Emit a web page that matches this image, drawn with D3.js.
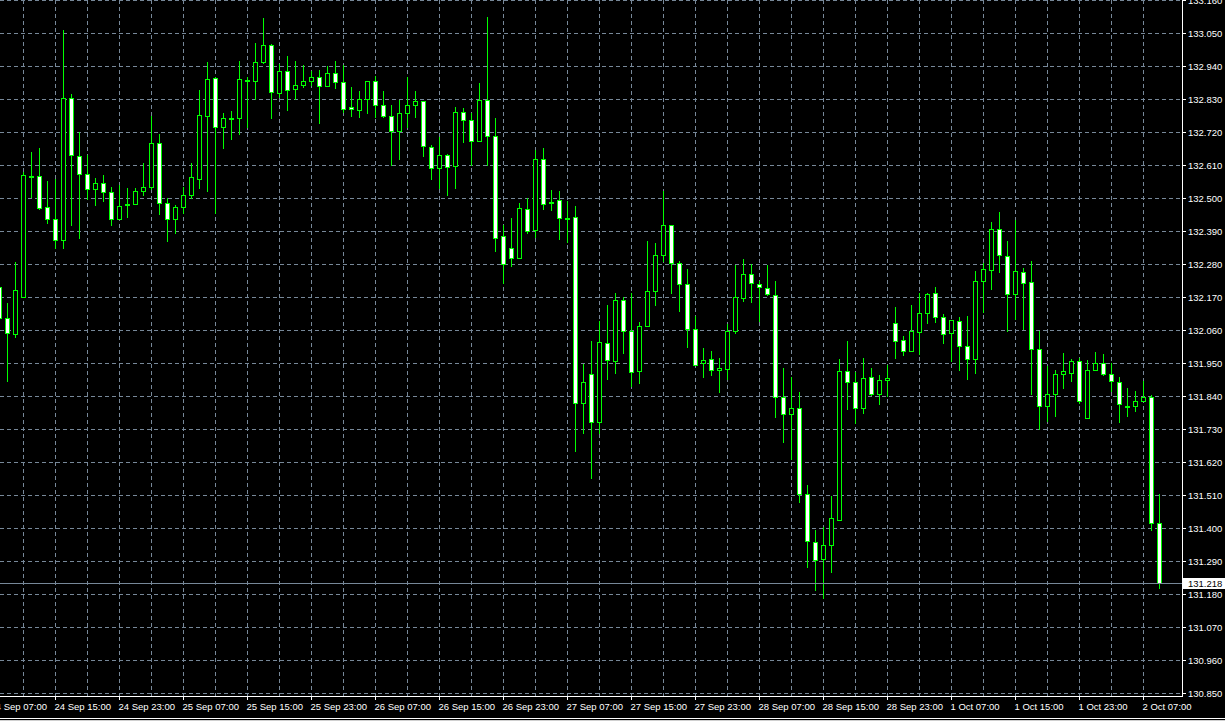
<!DOCTYPE html>
<html>
<head>
<meta charset="utf-8">
<script src="https://cdn.jsdelivr.net/npm/d3@7/dist/d3.min.js"></script>
<style>
  html, body { margin: 0; padding: 0; background: #000; overflow: hidden; }
  svg { display: block; }
  text { font-family: "Liberation Sans", Arial, sans-serif; font-size: 9.5px; }
</style>
</head>
<body>
<svg id="chart" width="1225" height="721"></svg>
<script>
// USDJPY-style H1 candles, 24 Sep 08:00 .. 2 Oct 09:00
const open = [132.202,132.099,132.046,132.169,132.574,132.572,132.469,132.429,132.359,132.832,
 132.639,132.579,132.531,132.549,132.519,132.429,132.479,132.479,132.522,132.536,
 132.682,132.482,132.431,132.469,132.509,132.564,132.774,132.899,132.736,132.766,
 132.766,132.894,132.889,132.952,133.009,132.849,132.922,132.862,132.876,132.889,
 132.902,132.872,132.916,132.886,132.802,132.792,132.829,132.889,132.809,132.772,
 132.722,132.782,132.809,132.822,132.669,132.599,132.642,132.606,132.786,132.759,
 132.689,132.826,132.706,132.372,132.332,132.299,132.462,132.392,132.629,132.488,
 132.492,132.434,132.436,131.816,131.912,131.752,132.016,131.956,132.159,132.056,
 131.922,132.072,132.189,132.309,132.409,132.282,132.212,132.062,131.949,131.962,
 131.926,131.929,132.056,132.166,132.246,132.212,132.199,132.176,131.836,131.779,
 131.799,131.512,131.352,131.296,131.342,131.426,131.922,131.886,131.799,131.902,
 131.846,131.892,132.082,132.026,131.989,132.052,132.116,132.182,132.102,132.049,
 132.089,132.006,131.962,132.222,132.259,132.396,132.306,132.179,132.252,132.219,
 131.996,131.806,131.846,131.912,131.916,131.956,131.766,131.926,131.949,131.912,
 131.886,131.808,131.806,131.822,131.836,131.416];
const high = [132.260,132.149,132.286,132.586,132.653,132.667,132.557,132.563,133.060,132.847,
 132.719,132.643,132.567,132.577,132.538,132.543,132.533,132.532,132.616,132.774,
 132.713,132.499,132.476,132.538,132.616,132.860,132.953,132.904,132.783,132.790,
 132.957,132.904,133.017,133.100,133.014,132.947,132.973,132.957,132.943,132.923,
 132.927,132.940,132.957,132.943,132.870,132.857,132.889,132.907,132.857,132.809,
 132.827,132.902,132.857,132.822,132.676,132.702,132.646,132.802,132.799,132.782,
 132.882,133.103,132.767,132.409,132.432,132.482,132.499,132.659,132.666,132.526,
 132.522,132.489,132.473,131.947,132.023,132.089,132.142,132.182,132.169,132.182,
 132.086,132.356,132.349,132.522,132.409,132.289,132.262,132.106,131.999,131.989,
 131.966,132.079,132.276,132.296,132.279,132.222,132.276,132.222,131.932,131.902,
 131.852,131.542,131.392,131.402,131.506,131.962,132.022,131.919,131.966,131.932,
 131.909,131.942,132.136,132.039,132.142,132.182,132.182,132.202,132.112,132.092,
 132.102,132.106,132.256,132.282,132.419,132.452,132.356,132.426,132.266,132.289,
 132.056,131.939,131.926,131.982,131.962,131.966,131.959,131.986,131.979,131.949,
 131.902,131.866,131.856,131.889,131.842,131.512];
const low = [132.077,131.891,132.038,132.169,132.504,132.464,132.418,132.334,132.334,132.411,
 132.368,132.496,132.478,132.491,132.411,132.429,132.438,132.479,132.511,132.531,
 132.448,132.358,132.384,132.451,132.499,132.534,132.524,132.449,132.668,132.698,
 132.714,132.738,132.829,132.949,132.768,132.836,132.794,132.829,132.871,132.876,
 132.751,132.872,132.866,132.788,132.774,132.771,132.782,132.769,132.769,132.609,
 132.631,132.736,132.771,132.641,132.564,132.534,132.511,132.534,132.686,132.609,
 132.689,132.609,132.324,132.216,132.272,132.299,132.382,132.369,132.462,132.459,
 132.362,132.352,131.658,131.718,131.567,131.716,131.898,131.916,131.984,131.874,
 131.882,132.072,132.144,132.289,132.182,132.124,132.002,131.942,131.904,131.911,
 131.852,131.896,132.049,132.156,132.152,132.089,132.176,131.769,131.686,131.629,
 131.486,131.269,131.192,131.168,131.252,131.426,131.796,131.749,131.782,131.842,
 131.814,131.839,131.968,131.976,131.989,131.979,132.082,132.086,132.016,131.956,
 131.926,131.898,131.916,132.119,132.196,132.252,132.056,132.096,132.062,131.846,
 131.729,131.756,131.774,131.866,131.889,131.816,131.766,131.926,131.909,131.856,
 131.752,131.772,131.791,131.822,131.392,131.199];
const close = [132.099,132.049,132.192,132.576,132.574,132.468,132.431,132.359,132.832,132.642,
 132.579,132.531,132.549,132.519,132.429,132.472,132.479,132.522,132.536,132.682,
 132.482,132.431,132.469,132.509,132.569,132.776,132.896,132.738,132.766,132.766,
 132.896,132.894,132.952,133.009,132.852,132.922,132.859,132.876,132.889,132.902,
 132.872,132.916,132.886,132.796,132.796,132.829,132.889,132.809,132.772,132.722,
 132.782,132.809,132.822,132.672,132.599,132.642,132.602,132.786,132.759,132.689,
 132.826,132.706,132.366,132.279,132.299,132.466,132.389,132.629,132.479,132.488,
 132.432,132.434,131.816,131.886,131.752,132.019,131.959,132.159,132.056,131.919,
 132.072,132.189,132.309,132.409,132.282,132.212,132.062,131.942,131.959,131.926,
 131.932,132.056,132.169,132.246,132.216,132.202,132.179,131.836,131.779,131.799,
 131.512,131.356,131.292,131.342,131.432,131.922,131.886,131.799,131.899,131.846,
 131.892,131.899,132.022,131.989,132.056,132.116,132.179,132.102,132.046,132.092,
 132.006,131.962,132.222,132.262,132.396,132.309,132.179,132.256,132.216,131.996,
 131.806,131.846,131.912,131.922,131.956,131.822,131.926,131.949,131.912,131.889,
 131.812,131.808,131.822,131.836,131.416,131.218];

const priceTicks = ["133.160","133.050","132.940","132.830","132.720","132.610","132.500",
 "132.390","132.280","132.170","132.060","131.950","131.840","131.730","131.620","131.510",
 "131.400","131.290","131.180","131.070","130.960","130.850"];
const timeLabels = ["24 Sep 07:00","24 Sep 15:00","24 Sep 23:00","25 Sep 07:00","25 Sep 15:00",
 "25 Sep 23:00","26 Sep 07:00","26 Sep 15:00","26 Sep 23:00","27 Sep 07:00","27 Sep 15:00",
 "27 Sep 23:00","28 Sep 07:00","28 Sep 15:00","28 Sep 23:00","1 Oct 07:00","1 Oct 15:00",
 "1 Oct 23:00","2 Oct 07:00"];
const timeLabelBar = [-1,7,15,23,31,39,47,55,63,71,79,87,95,103,111,119,127,135,143];
const currentPrice = 131.218;

const N = close.length;
const W = 1225, H = 721;
const plotRight = 1182, axisY = 696;
const GREEN = "#00ff00", GRID = "#778899";

const svg = d3.select("#chart");
svg.append("rect").attr("width", W).attr("height", H).attr("fill", "#000");

const x = d3.scaleLinear().domain([0, N - 1]).range([-0.5, 8 * (N - 1) - 0.5]);
const y = d3.scaleLinear().domain([130.85, 133.16]).range([693, 0]);
const row = p => Math.round(y(p));

const clip = svg.append("defs").append("clipPath").attr("id", "plot")
  .append("rect").attr("x", 0).attr("y", 0).attr("width", plotRight).attr("height", axisY);

// grid
const grid = svg.append("g").attr("clip-path", "url(#plot)");
grid.selectAll("line.h").data(priceTicks).enter().append("line")
  .attr("x1", 0).attr("x2", plotRight)
  .attr("y1", d => row(+d) + 0.5).attr("y2", d => row(+d) + 0.5)
  .attr("stroke", GRID).attr("stroke-dasharray", "4,3");
const vIdx = d3.range(-1, N, 4);
grid.selectAll("line.v").data(vIdx).enter().append("line")
  .attr("x1", d => x(d)).attr("x2", d => x(d))
  .attr("y1", 0).attr("y2", axisY)
  .attr("stroke", GRID).attr("stroke-dasharray", "4,3");

// candles
const candles = svg.append("g").attr("clip-path", "url(#plot)");
const idx = d3.range(N);
candles.selectAll("line.wick").data(idx).enter().append("line")
  .attr("x1", i => x(i)).attr("x2", i => x(i))
  .attr("y1", i => row(high[i])).attr("y2", i => row(low[i]) + 1)
  .attr("stroke", GREEN).attr("stroke-width", 1);
candles.selectAll("rect.body").data(idx).enter().append("rect")
  .attr("x", i => x(i) - 2)
  .attr("y", i => row(Math.max(open[i], close[i])) + 0.5)
  .attr("width", 4)
  .attr("height", i => {
    const h = row(Math.min(open[i], close[i])) - row(Math.max(open[i], close[i]));
    return Math.max(h, 1);
  })
  .attr("fill", i => open[i] === close[i] ? GREEN : (close[i] < open[i] ? "#ffffff" : "#000000"))
  .attr("stroke", GREEN).attr("stroke-width", 1);

// current price line
svg.append("line").attr("x1", 0).attr("x2", plotRight)
  .attr("y1", row(currentPrice) + 0.5).attr("y2", row(currentPrice) + 0.5)
  .attr("stroke", GRID).attr("stroke-width", 1);

// axes lines
svg.append("line").attr("x1", plotRight + 0.5).attr("x2", plotRight + 0.5)
  .attr("y1", 0).attr("y2", axisY + 1).attr("stroke", "#fff");
svg.append("line").attr("x1", 0).attr("x2", plotRight + 1)
  .attr("y1", axisY + 0.5).attr("y2", axisY + 0.5).attr("stroke", "#fff");
svg.append("line").attr("x1", 0).attr("x2", W)
  .attr("y1", 718.5).attr("y2", 718.5).attr("stroke", "#fff");
svg.append("line").attr("x1", 0).attr("x2", W)
  .attr("y1", 720.5).attr("y2", 720.5).attr("stroke", "#d0d0d0");

// right price axis
const pa = svg.append("g");
pa.selectAll("line").data(priceTicks).enter().append("line")
  .attr("x1", plotRight + 1).attr("x2", plotRight + 4)
  .attr("y1", d => row(+d) + 0.5).attr("y2", d => row(+d) + 0.5)
  .attr("stroke", "#fff");
pa.selectAll("text").data(priceTicks).enter().append("text")
  .attr("x", 1188).attr("y", d => row(+d) + 0.5)
  .attr("dominant-baseline", "central")
  .attr("fill", "#fff").text(d => d);

// current price label
svg.append("rect").attr("x", 1183).attr("y", row(currentPrice) - 5)
  .attr("width", 42).attr("height", 11).attr("fill", "#fff");
svg.append("text").attr("x", 1188).attr("y", row(currentPrice) + 0.5)
  .attr("dominant-baseline", "central").attr("fill", "#000")
  .text(currentPrice.toFixed(3));

// bottom time axis
const ta = svg.append("g");
ta.selectAll("line").data(timeLabelBar).enter().append("line")
  .attr("x1", d => x(d)).attr("x2", d => x(d))
  .attr("y1", axisY + 1).attr("y2", axisY + 4).attr("stroke", "#fff");
ta.selectAll("text").data(timeLabels).enter().append("text")
  .attr("x", (d, k) => x(timeLabelBar[k]) - 1).attr("y", 710)
  .attr("fill", "#fff").text(d => d);
</script>
</body>
</html>
